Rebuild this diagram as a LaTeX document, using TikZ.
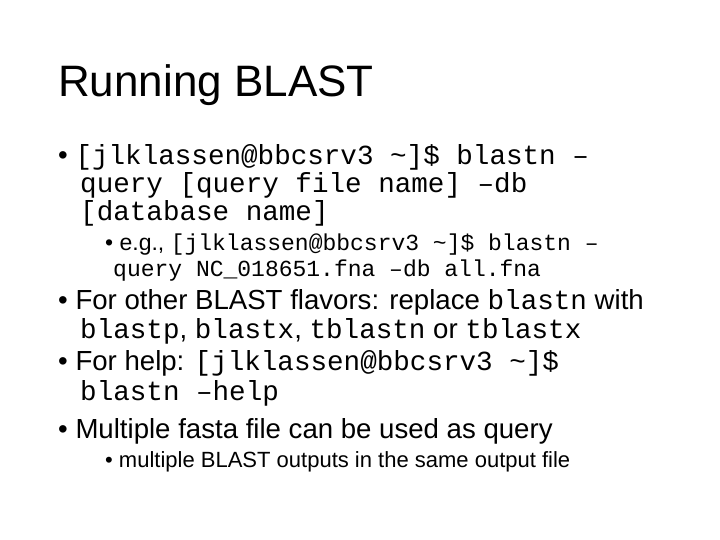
\documentclass[tikz,border=0pt]{standalone}
\usepackage{fontspec}
\setmainfont{Liberation Sans}
\setmonofont{Liberation Mono}
\begin{document}
\begin{tikzpicture}[x=1pt,y=-1pt,
  L/.style={anchor=base west,inner sep=0pt,font=\fontsize{27.6}{30}\selectfont},
  S/.style={anchor=base west,inner sep=0pt,font=\fontsize{23}{26}\selectfont},
  T/.style={anchor=base west,inner sep=0pt,font=\fontsize{22}{24}\selectfont}]
\useasboundingbox (0,0) rectangle (720,540);
\node[anchor=base west,inner sep=0pt,font=\fontsize{44}{50}\selectfont] (title) at (58,97) {Running BLAST};
\node[L] (b1) at (58,165) {• \texttt{[jlklassen@bbcsrv3 \textasciitilde]\$ blastn –}};
\node[L] (b1b) at (80,193) {\texttt{query [query file name] –db}};
\node[L] (b1c) at (80,221) {\texttt{[database name]}};
\node[S] (s1) at (105,251) {• e.g., \texttt{[jlklassen@bbcsrv3 \textasciitilde]\$ blastn –}};
\node[S] (s1b) at (113,276) {\texttt{query NC\_018651.fna –db all.fna}};
\node[L] (b2) at (58,309) {• For other BLAST flavors: replace \texttt{blastn} with};
\node[L] (b2b) at (80,338) {\texttt{blastp}, \texttt{blastx}, \texttt{tblastn} or \texttt{tblastx}};
\node[L] (b3) at (58,370) {• For help: \texttt{[jlklassen@bbcsrv3 \textasciitilde]\$}};
\node[L] (b3b) at (80,400) {\texttt{blastn –help}};
\node[L] (b4) at (58,438) {• Multiple fasta file can be used as query};
\node[T] (s4) at (105,467) {• multiple BLAST outputs in the same output file};
\end{tikzpicture}
\end{document}
